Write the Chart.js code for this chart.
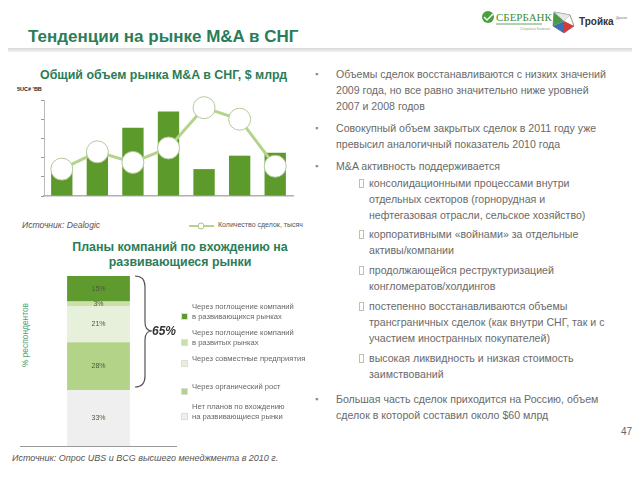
<!DOCTYPE html>
<html>
<head>
<meta charset="utf-8">
<script src="https://cdn.jsdelivr.net/npm/chart.js@4"></script>
<style>
  body { margin: 0; width: 640px; height: 480px; background: #fff; font-family: "Liberation Sans", Arial, sans-serif; overflow: hidden; position: relative; }
  .abs { position: absolute; white-space: nowrap; }
  .green { color: #2b7d57; font-weight: bold; }
  .txt { color: #6a6a6a; font-size: 10.6px; line-height: 16px; }
  .bul { position: absolute; left: -21px; top: 0; color: #8a8a8a; font-size: 9px; }
  .sub { position: absolute; left: -10px; top: 4px; width: 3px; height: 7px; border: 1px solid #b9c6a4; }
  .leg { color: #666; font-size: 7.6px; line-height: 10px; }
  .sq { position: absolute; width: 5px; height: 5px; left: 181px; }
</style>
</head>
<body>
<!-- ---------------- Header ---------------- -->
<div class="abs green" style="left:28px; top:27px; font-size:17px;">Тенденции на рынке M&amp;A в СНГ</div>
<div class="abs" style="left:8px; top:48px; width:624px; height:4px; background:linear-gradient(#d6d6d6,#f2f2f2);"></div>

<svg class="abs" style="left:480px; top:6px;" width="160" height="30">
  <circle cx="8" cy="11" r="6" fill="#47a23c"/>
  <path d="M4 11 l3 3 l6 -6" stroke="#fff" stroke-width="1.5" fill="none"/>
  <text x="16" y="15" font-family="Liberation Serif" font-size="11" fill="#3d8f3a">СБЕРБАНК</text>
  <line x1="16" y1="18" x2="62" y2="18" stroke="#3d8f3a" stroke-width="0.8"/>
  <text x="40" y="24" font-family="Liberation Sans" font-size="3.5" fill="#999">Сбербанк Капитал</text>
  <polygon points="74,6 90,9 94,20 84,27 73,20" fill="none" stroke="#777" stroke-width="0.8"/>
  <polygon points="74,6 84,15 73,20" fill="#4a9a48"/>
  <polygon points="84,15 94,20 84,27" fill="#d23b3b"/>
  <polygon points="84,15 73,20 84,27" fill="#3a6fb0"/>
  <polygon points="74,6 90,9 84,15" fill="#e8e8e8" stroke="#aaa" stroke-width="0.5"/>
  <text x="99" y="19" font-family="Liberation Sans" font-weight="bold" font-size="10" fill="#333">Тройка</text>
  <text x="136" y="13" font-family="Liberation Sans" font-size="3.5" fill="#777">Диалог</text>
</svg>

<!-- ---------------- Top chart ---------------- -->
<div class="abs green" style="left:40px; top:68px; font-size:12.4px;">Общий объем рынка M&amp;A в СНГ, $ млрд</div>
<div class="abs" style="left:17px; top:86px; font-size:5.5px; font-weight:bold; color:#222;">5UC# 'BB</div>
<div class="abs" style="left:30px; top:88px; width:275px; height:120px;"><canvas id="volChart"></canvas></div>
<div class="abs" style="left:22px; top:220px; font-size:8.6px; font-style:italic; color:#555;">Источник: Dealogic</div>
<svg class="abs" style="left:188px; top:221px;" width="28" height="10">
  <line x1="1" y1="5" x2="26" y2="5" stroke="#b5d38a" stroke-width="2"/>
  <circle cx="13" cy="5" r="3" fill="#fff" stroke="#a9c57f" stroke-width="1"/>
</svg>
<div class="abs" style="left:218px; top:221px; font-size:7px; color:#555;">Количество сделок, тысяч</div>

<!-- ---------------- Bottom chart ---------------- -->
<div class="abs green" style="left:0; width:360px; top:240px; font-size:12.4px; text-align:center; line-height:15px;">Планы компаний по вхождению на<br>развивающиеся рынки</div>
<div class="abs" style="left:25px; top:335px; font-size:8.4px; color:#4fa07a; transform:translate(-50%,-50%) rotate(-90deg);">% респондентов</div>
<div class="abs" style="left:20px; top:270px; width:157px; height:177px;"><canvas id="planChart"></canvas></div>
<svg class="abs" style="left:132px; top:272px;" width="24" height="120">
  <path d="M3 4 Q13 4 13 15 L13 50 Q13 59 20 59 Q13 59 13 68 L13 104 Q13 115 3 115" stroke="#555" stroke-width="1.2" fill="none"/>
</svg>
<div class="abs" style="left:152px; top:324px; font-size:12px; font-style:italic; font-weight:bold; color:#333;">65%</div>

<div id="planLegend"></div>

<div class="abs" style="left:12px; top:453px; font-size:9px; font-style:italic; color:#555;">Источник: Опрос UBS и BCG высшего менеджмента в 2010 г.</div>

<!-- ---------------- Right text ---------------- -->
<div class="abs txt" style="left:336px; top:66px;"><span class="bul">▪</span>Объемы сделок восстанавливаются с низких значений<br>2009 года, но все равно значительно ниже уровней<br>2007 и 2008 годов</div>
<div class="abs txt" style="left:336px; top:120px;"><span class="bul">▪</span>Совокупный объем закрытых сделок в 2011 году уже<br>превысил аналогичный показатель 2010 года</div>
<div class="abs txt" style="left:336px; top:158px;"><span class="bul">▪</span>M&amp;A активность поддерживается</div>
<div class="abs txt" style="left:369px; top:175px;"><span class="sub"></span>консолидационными процессами внутри<br>отдельных секторов (горнорудная и<br>нефтегазовая отрасли, сельское хозяйство)</div>
<div class="abs txt" style="left:369px; top:226px;"><span class="sub"></span>корпоративными «войнами» за отдельные<br>активы/компании</div>
<div class="abs txt" style="left:369px; top:262px;"><span class="sub"></span>продолжающейся реструктуризацией<br>конгломератов/холдингов</div>
<div class="abs txt" style="left:369px; top:298px;"><span class="sub"></span>постепенно восстанавливаются объемы<br>трансграничных сделок (как внутри СНГ, так и с<br>участием иностранных покупателей)</div>
<div class="abs txt" style="left:369px; top:350px;"><span class="sub"></span>высокая ликвидность и низкая стоимость<br>заимствований</div>
<div class="abs txt" style="left:336px; top:391px;"><span class="bul">▪</span>Большая часть сделок приходится на Россию, объем<br>сделок в которой составил около $60 млрд</div>
<div class="abs" style="left:621px; top:426px; font-size:10px; color:#666;">47</div>

<script>
// ---------------- Data ----------------
const years = ["2005", "2006", "2007", "2008", "2009", "2010", "2011"];
const volumeBn = [31, 47, 71, 88, 28, 42, 45];
const dealCount = [28, 46, 35, 50, 92, 80, 31];
const volTicks = [0, 20, 40, 60, 80, 100];

const planLabels = [
    "Нет планов по вхождению\nна развивающиеся рынки",
    "Через органический рост",
    "Через совместные предприятия",
    "Через поглощение компаний\nв развитых рынках",
    "Через поглощение компаний\nв развивающихся рынках"
];
const planShares = [33, 28, 21, 3, 15];
const planColors = ["#efefef", "#b3d488", "#e7f0da", "#cadfa9", "#5f9a2e"];
const planLegendTop = [302, 328, 354, 382, 402];

// ---------------- Volume chart ----------------
new Chart(document.getElementById("volChart"), {
    data: {
        labels: years,
        datasets: [
            {
                type: "line", label: "Количество сделок, тысяч", data: dealCount, order: 0,
                borderColor: "#b5d38a", borderWidth: 3, clip: false,
                pointRadius: 11, pointBackgroundColor: "#fff",
                pointBorderColor: "#b3c99a", pointBorderWidth: 1
            },
            {
                type: "bar", label: "$ млрд", data: volumeBn, order: 1,
                backgroundColor: "#5c9a2c", barPercentage: 0.6, categoryPercentage: 1
            }
        ]
    },
    options: {
        responsive: true, maintainAspectRatio: false, animation: false,
        layout: { padding: { top: 7, right: 6, left: 0, bottom: 0 } },
        plugins: { legend: { display: false }, tooltip: { enabled: false } },
        scales: {
            x: {
                ticks: { display: false }, grid: { display: false },
                border: { display: true, color: "#b0b0b0", width: 1.5 },
                afterFit(s) { s.height = 5; }
            },
            y: {
                min: 0, max: 100,
                afterBuildTicks(s) { s.ticks = volTicks.map(v => ({ value: v })); },
                ticks: { display: false },
                grid: { drawOnChartArea: false, tickLength: 3, color: "#999" },
                border: { display: true, color: "#bbb" },
                afterFit(s) { s.width = 14; }
            }
        }
    }
});

// ---------------- Plans chart ----------------
const segmentLabels = {
    id: "segmentLabels",
    afterDatasetsDraw(chart) {
        const ctx = chart.ctx;
        ctx.save();
        ctx.font = "7px 'Liberation Sans'";
        ctx.fillStyle = "#4d5a3e";
        ctx.textAlign = "center";
        ctx.textBaseline = "middle";
        chart.data.datasets.forEach((ds, i) => {
            chart.getDatasetMeta(i).data.forEach(bar => {
                const yMid = (bar.y + bar.base) / 2;
                ctx.fillText(ds.data[0] + "%", bar.x, yMid);
            });
        });
        ctx.restore();
    }
};

new Chart(document.getElementById("planChart"), {
    type: "bar",
    data: {
        labels: ["2010"],
        datasets: planShares.map((v, i) => ({
            label: planLabels[i], data: [v], backgroundColor: planColors[i],
            barPercentage: 0.4, categoryPercentage: 1
        }))
    },
    options: {
        responsive: true, maintainAspectRatio: false, animation: false,
        layout: { padding: { top: 6, left: 0, right: 0, bottom: 0 } },
        plugins: { legend: { display: false }, tooltip: { enabled: false } },
        scales: {
            x: {
                stacked: true, ticks: { display: false }, grid: { display: false },
                border: { display: true, color: "#999" },
                afterFit(s) { s.height = 1; }
            },
            y: { stacked: true, min: 0, max: 100, display: false }
        }
    },
    plugins: [segmentLabels]
});

// ---------------- Plans legend ----------------
const legendBox = document.getElementById("planLegend");
for (let i = planLabels.length - 1; i >= 0; i--) {
    const k = planLabels.length - 1 - i;
    const lines = planLabels[i].split("\n");
    const top = planLegendTop[k];
    const item = document.createElement("div");
    item.className = "abs leg";
    item.style.left = "192px";
    item.style.top = top + "px";
    item.innerHTML = lines.join("<br>");
    legendBox.appendChild(item);
    const sq = document.createElement("div");
    sq.className = "sq";
    sq.style.top = (top + lines.length * 5 + 1) + "px";
    sq.style.background = planColors[i];
    sq.style.border = "0.5px solid #ddd";
    legendBox.appendChild(sq);
}
</script>
</body>
</html>
